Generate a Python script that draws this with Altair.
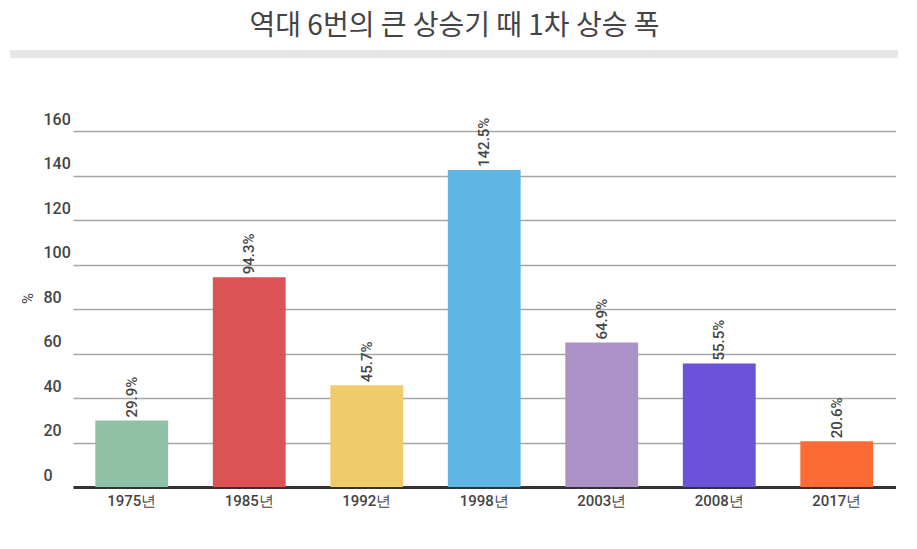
import altair as alt
import pandas as pd

years = ["1975년", "1985년", "1992년", "1998년", "2003년", "2008년", "2017년"]
values = [29.9, 94.3, 45.7, 142.5, 64.9, 55.5, 20.6]
colors = ["#8fc1a6", "#dc5356", "#f0cb69", "#5fb6e4", "#ab91c5", "#6b52d9", "#fd6b35"]
y_ticks = [0, 20, 40, 60, 80, 100, 120, 140, 160]

df = pd.DataFrame({"year": years, "value": values,
                   "label": [f"{v}%" for v in values]})

W, H = 855, 356

x = alt.X("year:N", sort=years,
          scale=alt.Scale(range=[30, 852.5], paddingInner=0.38, paddingOuter=0.19),
          axis=alt.Axis(title=None, labelAngle=0, ticks=False, labelPadding=6,
                        labelFontSize=15, labelFont="Roboto", labelColor="#444",
                        labelFontWeight=500,
                        domainColor="#333", domainWidth=3))
y = alt.Y("value:Q", scale=alt.Scale(domain=[0, 160], nice=False),
          axis=alt.Axis(title="%", values=y_ticks, ticks=False, tickSize=0, domain=False,
                        labelAlign="left", labelBaseline="bottom", labelPadding=0,
                        labelOffset=-4, labelFontSize=16, labelFont="Roboto",
                        labelColor="#444", labelFontWeight=500,
                        gridColor="#a6a6a6", gridWidth=1.3,
                        titleAngle=-90, titleX=-16, titleY=167, titleFontSize=15,
                        titleFont="Roboto", titleFontWeight="normal", titleColor="#444",
                        titleBaseline="middle", titleAlign="center"))

bars = alt.Chart(df).mark_bar().encode(
    x=x, y=y,
    color=alt.Color("year:N", sort=years,
                    scale=alt.Scale(domain=years, range=colors), legend=None))

labels = alt.Chart(df).mark_text(angle=270, align="left", baseline="middle", dx=3,
                                 fontSize=15, font="Roboto", fontWeight=500,
                                 color="#444").encode(
    x=alt.X("year:N", sort=years), y="value:Q", text="label:N")

sep = alt.Chart(df).mark_rule(color="#e6e6e6", strokeWidth=7).encode(
    x=alt.value(-33), x2=alt.value(855), y=alt.value(-77))

chart = alt.layer(sep, bars, labels).properties(
    width=W, height=H,
    autosize=alt.AutoSizeParams(type="none"),
    padding={"left": 35, "top": 123, "right": 11, "bottom": 54},
    title=alt.TitleParams("역대 6번의 큰 상승기 때 1차 상승 폭", fontSize=28,
                          font="Noto Sans CJK KR", fontWeight="normal", color="#444",
                          anchor="middle", dx=-16, offset=10)
).configure_view(stroke=None)

chart.save("out.html", embed_options={"renderer": "svg", "actions": False})
